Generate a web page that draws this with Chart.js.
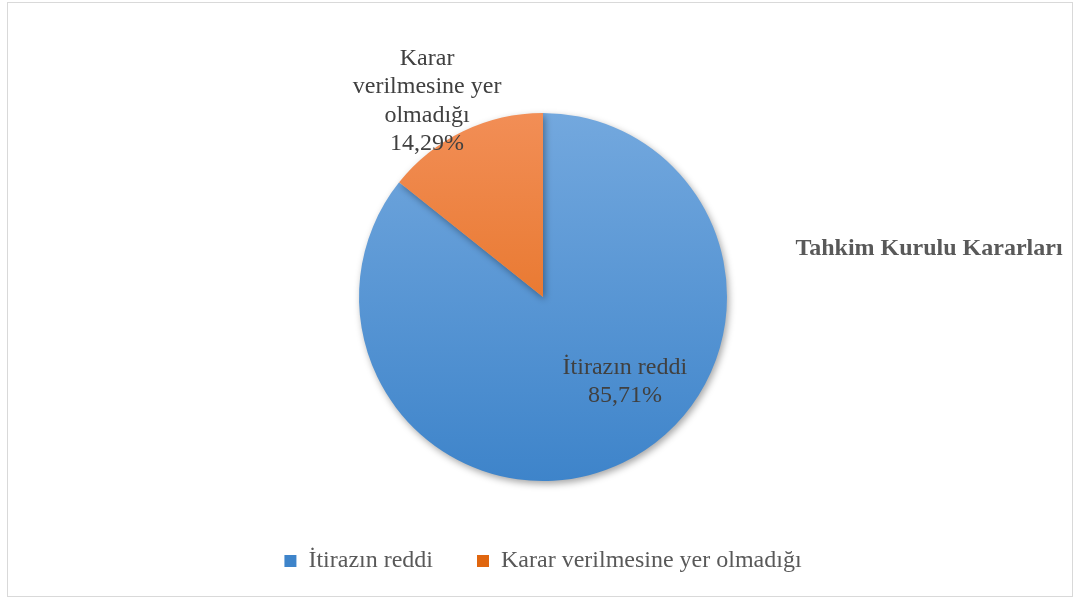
<!DOCTYPE html>
<html>
<head>
<meta charset="utf-8">
<script src="https://cdn.jsdelivr.net/npm/chart.js@4"></script>
<style>
  html, body { margin: 0; padding: 0; background: #fff; }
  #wrap { width: 1078px; height: 599px; position: relative; }
</style>
</head>
<body>
<div id="wrap"><canvas id="pieChart"></canvas></div>
<script>
// chart data
var categories = ['İtirazın reddi', 'Karar verilmesine yer olmadığı'];
var values = [85.71, 14.29];
var labelLines = [['İtirazın reddi'], ['Karar', 'verilmesine yer', 'olmadığı']];
var chartTitle = 'Tahkim Kurulu Kararları';

var gradTop = ['#73a8de', '#f28e56'];
var gradBottom = ['#3e84ca', '#e0660f'];
var serif = '"Liberation Serif", "Times New Roman", serif';

function sliceFill(context) {
    var chart = context.chart;
    var area = chart.chartArea;
    if (!area || !isFinite(area.top)) return gradBottom[context.dataIndex];
    var cy = (area.top + area.bottom) / 2;
    var r = Math.min(184, Math.min(area.right - area.left, area.bottom - area.top) / 2);
    var g = chart.ctx.createLinearGradient(0, cy - r, 0, cy + r);
    g.addColorStop(0, gradTop[context.dataIndex]);
    g.addColorStop(1, gradBottom[context.dataIndex]);
    return g;
}

var fmt = function(v) { return v.toFixed(2).replace('.', ',') + '%'; };

// frame, title, shadow and slice labels
var extras = {
    id: 'extras',
    beforeDraw: function(chart) {
        var ctx = chart.ctx;
        ctx.save();
        ctx.strokeStyle = '#d9d9d9';
        ctx.lineWidth = 1;
        ctx.strokeRect(7.5, 2.5, 1065, 594);
        ctx.restore();
    },
    beforeDatasetDraw: function(chart) {
        var ctx = chart.ctx;
        ctx.save();
        ctx.shadowColor = 'rgba(0,0,0,0.35)';
        ctx.shadowBlur = 7;
        ctx.shadowOffsetX = 2;
        ctx.shadowOffsetY = 3;
    },
    afterDatasetDraw: function(chart) {
        chart.ctx.restore();
    },
    afterDraw: function(chart) {
        var ctx = chart.ctx;
        var arcs = chart.getDatasetMeta(0).data;
        var cx = arcs[0].x, cy = arcs[0].y, r = arcs[0].outerRadius;
        var offs = [[0.445, 0.46], [-0.63, -1.065]];
        ctx.save();
        ctx.font = '24px ' + serif;
        ctx.fillStyle = '#404040';
        ctx.textAlign = 'center';
        ctx.textBaseline = 'middle';
        for (var i = 0; i < arcs.length; i++) {
            var lines = labelLines[i].concat([fmt(values[i])]);
            var lx = cx + offs[i][0] * r;
            var ly = cy + offs[i][1] * r;
            var lh = 28.5;
            var y0 = ly - (lines.length - 1) * lh / 2;
            for (var j = 0; j < lines.length; j++) {
                ctx.fillText(lines[j], lx, y0 + j * lh);
            }
        }
        ctx.font = 'bold 24px ' + serif;
        ctx.fillStyle = '#595959';
        ctx.fillText(chartTitle, 929, 249);
        ctx.restore();
    }
};

var pieCanvas = document.getElementById('pieChart').getContext('2d');
var pieChart = new Chart(pieCanvas, {
    type: 'pie',
    data: {
        labels: categories,
        datasets: [{
            data: values,
            backgroundColor: sliceFill,
            borderWidth: 0,
            radius: 184
        }]
    },
    options: {
        responsive: true,
        maintainAspectRatio: false,
        animation: false,
        layout: { padding: { left: 8, right: 0, top: 89, bottom: 16 } },
        plugins: {
            legend: {
                position: 'bottom',
                labels: {
                    font: { family: serif, size: 24 },
                    color: '#595959',
                    boxWidth: 12,
                    boxHeight: 12,
                    padding: 44
                }
            },
            tooltip: { enabled: false }
        }
    },
    plugins: [extras]
});
</script>
</body>
</html>
